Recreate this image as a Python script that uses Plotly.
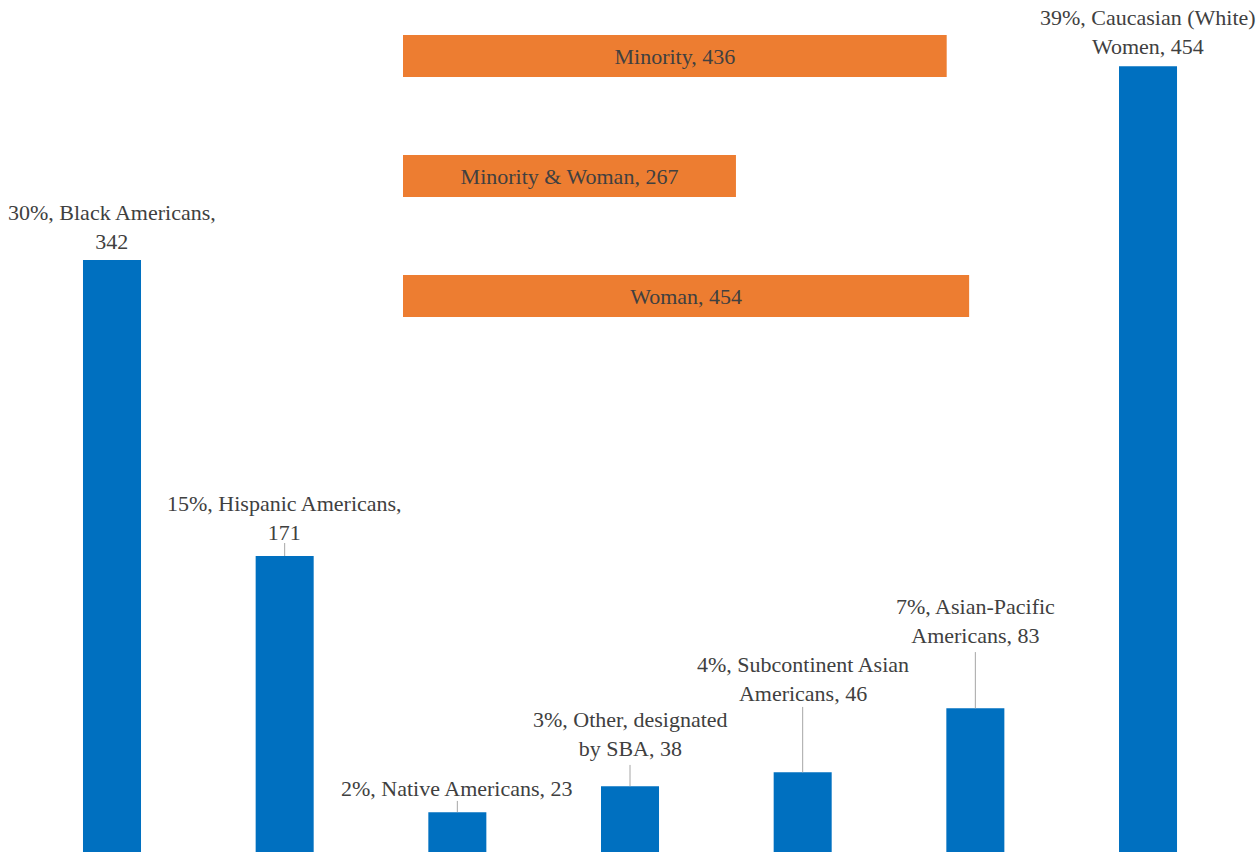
import plotly.graph_objects as go

# ---- data ----
groups = ["Black Americans", "Hispanic Americans", "Native Americans",
          "Other, designated by SBA", "Subcontinent Asian Americans",
          "Asian-Pacific Americans", "Caucasian (White) Women"]
counts = [342, 171, 23, 38, 46, 83, 454]
labels = ["30%, Black Americans,<br>342",
          "15%, Hispanic Americans,<br>171",
          "2%, Native Americans, 23",
          "3%, Other, designated<br>by SBA, 38",
          "4%, Subcontinent Asian<br>Americans, 46",
          "7%, Asian-Pacific<br>Americans, 83",
          "39%, Caucasian (White)<br>Women, 454"]

summary_cats = ["Minority", "Minority & Woman", "Woman"]
summary_vals = [436, 267, 454]

# label placement (y value of label centre, leader line end or None)
label_center = [361.1, 193.0, 36.4, 67.9, 100.2, 133.5, 473.7]
leader_end = [None, 178.5, 29.5, 50.3, 83.8, 115.5, None]

BLUE = "#0070C0"
ORANGE = "#ED7D31"
TXT = "#404040"
FONT = "Liberation Serif"

W, H = 1259, 852
fig = go.Figure()

xs = list(range(len(groups)))
fig.add_trace(go.Bar(x=xs, y=counts, width=0.336, marker=dict(color=BLUE, line=dict(width=0)),
                     hoverinfo="skip", showlegend=False))

ys = list(range(len(summary_cats)))
fig.add_trace(go.Bar(y=ys, x=summary_vals, orientation="h", width=0.35,
                     marker=dict(color=ORANGE, line=dict(width=0)),
                     text=[f"{c}, {v}" for c, v in zip(summary_cats, summary_vals)],
                     textposition="inside", insidetextanchor="middle", textangle=0,
                     constraintext="none",
                     textfont=dict(family=FONT, size=22, color=TXT),
                     xaxis="x2", yaxis="y2", hoverinfo="skip", showlegend=False))

annotations = []
shapes = []
for i, (lab, cy, le, v) in enumerate(zip(labels, label_center, leader_end, counts)):
    annotations.append(dict(x=i, y=cy, xref="x", yref="y", text=lab, showarrow=False,
                            xanchor="center", yanchor="middle", align="center",
                            font=dict(family=FONT, size=22, color=TXT)))
    if le is not None:
        shapes.append(dict(type="line", xref="x", yref="y", x0=i, x1=i, y0=v, y1=le,
                           line=dict(color="#A6A6A6", width=1)))

# axis ranges derived from pixel layout
px_per_cat = 172.67
x_c0 = 112
x_range = [-x_c0 / px_per_cat, (W - x_c0) / px_per_cat]
px_per_unit_y = 1.731
y_range = [0, H / px_per_unit_y]
px_per_unit_x2 = 1.247
x2_0 = 403
x2_range = [-x2_0 / px_per_unit_x2, (W - x2_0) / px_per_unit_x2]
row_px = 120
y2_c0 = 56
y2_range = [(H - y2_c0) / row_px, -y2_c0 / row_px]

hidden = dict(showgrid=False, zeroline=False, showticklabels=False, ticks="",
              showline=False)

fig.update_layout(
    width=W, height=H,
    margin=dict(l=0, r=0, t=0, b=0),
    paper_bgcolor="white", plot_bgcolor="white",
    font=dict(family=FONT, size=22, color=TXT),
    xaxis=dict(range=x_range, **hidden),
    yaxis=dict(range=y_range, **hidden),
    xaxis2=dict(range=x2_range, overlaying="x", anchor="y2", **hidden),
    yaxis2=dict(range=y2_range, overlaying="y", anchor="x2", **hidden),
    annotations=annotations, shapes=shapes,
    barmode="overlay", showlegend=False,
)

fig.write_html("out.html")
